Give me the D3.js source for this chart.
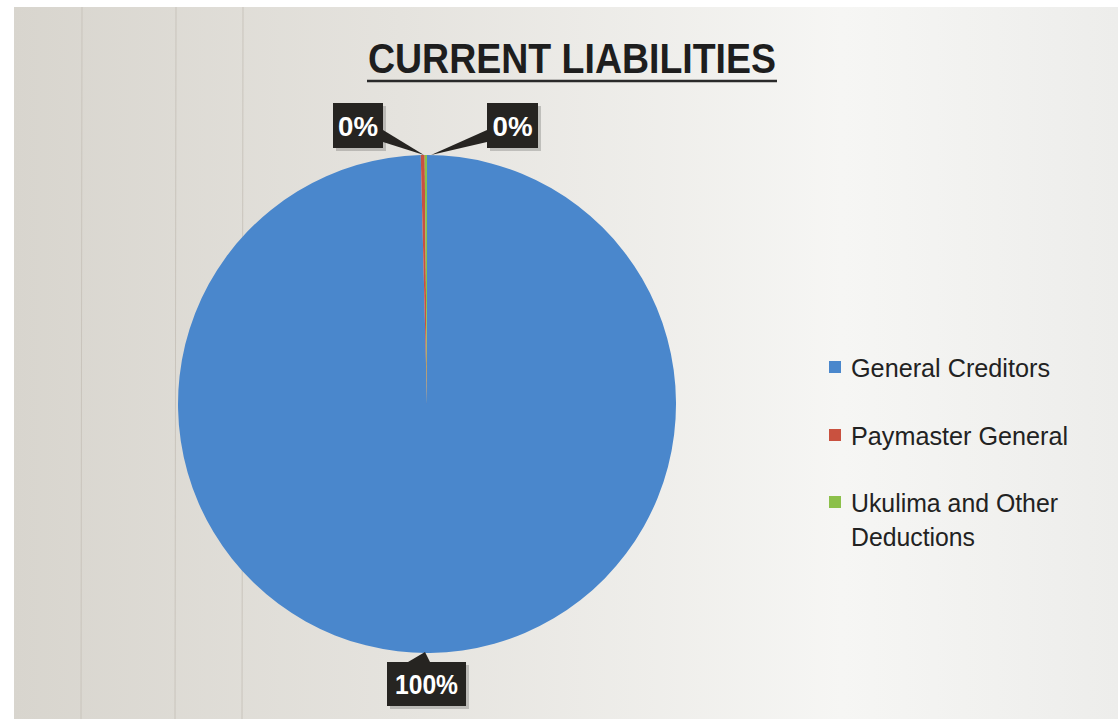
<!DOCTYPE html>
<html><head><meta charset="utf-8">
<script src="https://cdn.jsdelivr.net/npm/d3@7"></script>
<style>html,body{margin:0;padding:0;background:#fff;}svg{display:block;}</style>
</head><body>
<svg id="c" width="1118" height="726"></svg>
<script>
const categories = ["General Creditors", "Paymaster General", "Ukulima and Other Deductions"];
const values = [99.6, 0.25, 0.15];
const labels = ["100%", "0%", "0%"];
const colors = ["#4a87cc", "#c9513f", "#8cc04a"];

const svg = d3.select("#c");
const defs = svg.append("defs");
const g1 = defs.append("linearGradient").attr("id","bg").attr("x1","0").attr("x2","1").attr("y1","0").attr("y2","0");
g1.append("stop").attr("offset","0").attr("stop-color","#d8d5ce");
g1.append("stop").attr("offset","0.35").attr("stop-color","#e5e3de");
g1.append("stop").attr("offset","0.75").attr("stop-color","#f6f6f4");
g1.append("stop").attr("offset","1").attr("stop-color","#ededeb");
svg.append("rect").attr("x",14).attr("y",7).attr("width",1104).attr("height",712).attr("fill","url(#bg)");
[82,176,243].forEach(x=>svg.append("line").attr("x1",x).attr("x2",x-1).attr("y1",7).attr("y2",719).attr("stroke","#c9c4bc").attr("stroke-width",1));

const FONT = "Liberation Sans, Arial, sans-serif";
// title
svg.append("text").attr("x",572).attr("y",73).attr("text-anchor","middle")
  .attr("font-family",FONT).attr("font-weight","bold")
  .attr("font-size",42).attr("fill","#1e1e1e").attr("textLength",408).attr("lengthAdjust","spacingAndGlyphs")
  .text("CURRENT LIABILITIES");
svg.append("line").attr("x1",367).attr("x2",777).attr("y1",81).attr("y2",81).attr("stroke","#2a2a2a").attr("stroke-width",2.5);

// pie
const cx = 427, cy = 404, r = 249;
const pie = d3.pie().sort(null).value(d=>d)(values);
const arc = d3.arc().innerRadius(0).outerRadius(r);
const gp = svg.append("g").attr("transform",`translate(${cx},${cy})`);
gp.selectAll("path").data(pie).join("path").attr("d",arc).attr("fill",(d,i)=>colors[i]);

// labels
const boxes = [
  {i:0, x:387, y:662, w:79, h:44, tl:63, tip:[425,652], b1:[408,662], b2:[430,662]},
  {i:1, x:333, y:103, w:50, h:45, tl:40, tip:[424,155], b1:[383,130], b2:[383,142]},
  {i:2, x:487, y:103, w:51, h:45, tl:40, tip:[431,155], b1:[487,130], b2:[487,142]}
];
boxes.forEach(b=>{
  svg.append("rect").attr("x",b.x+3).attr("y",b.y+3).attr("width",b.w).attr("height",b.h).attr("fill","#000").attr("opacity",0.18);
  svg.append("path").attr("d",`M${b.b1[0]},${b.b1[1]}L${b.tip[0]},${b.tip[1]}L${b.b2[0]},${b.b2[1]}Z`).attr("fill","#262421");
  svg.append("rect").attr("x",b.x).attr("y",b.y).attr("width",b.w).attr("height",b.h).attr("fill","#262421");
  svg.append("text").attr("x",b.x+b.w/2).attr("y",b.y+b.h/2+10).attr("text-anchor","middle")
    .attr("font-family",FONT).attr("font-weight","bold").attr("font-size",28)
    .attr("textLength",b.tl).attr("lengthAdjust","spacingAndGlyphs")
    .attr("fill","#fff").text(labels[b.i]);
});

// legend
const leg = [
  {y:368, lines:[["General Creditors",199]]},
  {y:436, lines:[["Paymaster General",217]]},
  {y:503, lines:[["Ukulima and Other",207],["Deductions",124]]}
];
leg.forEach((l,i)=>{
  svg.append("rect").attr("x",829).attr("y",l.y-7).attr("width",12).attr("height",12).attr("fill",colors[i]);
  l.lines.forEach((t,j)=>{
    svg.append("text").attr("x",851).attr("y",l.y+9+j*34).attr("font-family",FONT)
      .attr("font-size",26).attr("fill","#222")
      .attr("textLength",t[1]).attr("lengthAdjust","spacingAndGlyphs").text(t[0]);
  });
});
</script>
</body></html>
